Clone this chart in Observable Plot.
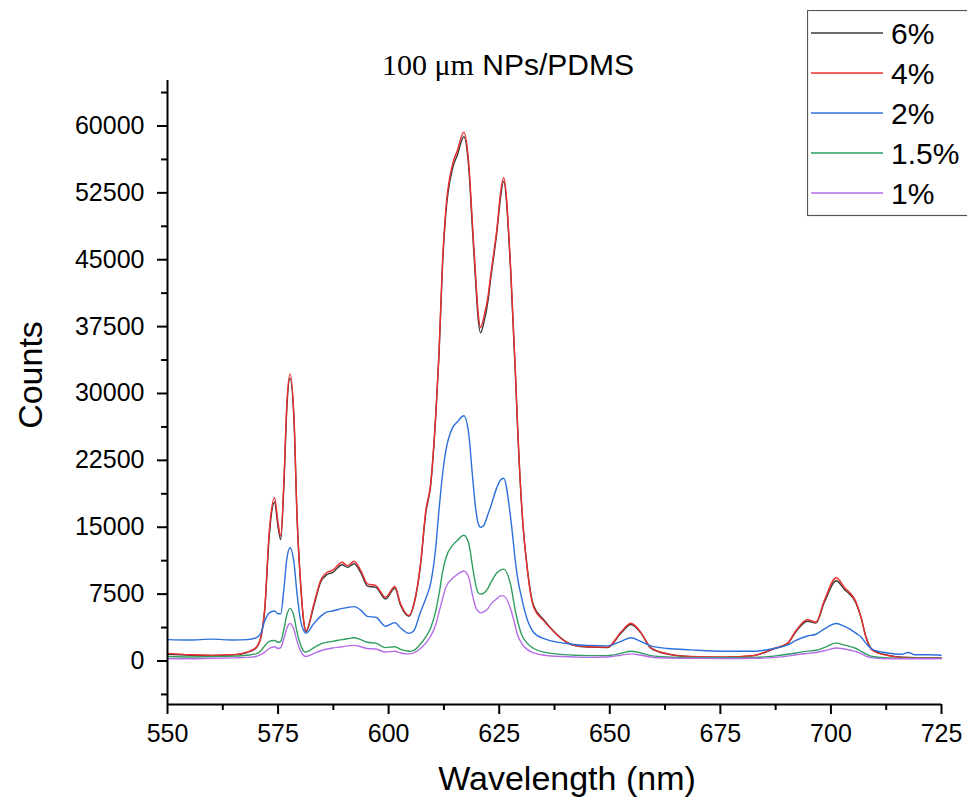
<!DOCTYPE html>
<html>
<head>
<meta charset="utf-8">
<script src="https://cdn.jsdelivr.net/npm/d3@7"></script>
<script src="https://cdn.jsdelivr.net/npm/@observablehq/plot@0.6"></script>
<style>
  html, body { margin: 0; padding: 0; background: #fff; }
  #wrap { position: relative; width: 967px; height: 805px; overflow: hidden; font-family: "Liberation Sans", Arial, sans-serif; }
  #title { position: absolute; left: 0; width: 1016px; top: 48px; text-align: center; font-size: 30px; color: #000; white-space: nowrap; }
  #title .serif { font-family: "Liberation Serif", "Times New Roman", serif; }
  #xlabel { position: absolute; left: 180px; width: 774px; top: 759px; text-align: center; font-size: 34px; color: #000; }
  #ylabel { position: absolute; left: 30px; top: 375px; transform: translate(-50%, -50%) rotate(-90deg); font-size: 34px; color: #000; white-space: nowrap; }
  #legend { position: absolute; left: 807px; top: 10px; }
</style>
</head>
<body>
<div id="wrap">
  <div id="chart"></div>
  <div id="title"><span class="serif">100 μm</span> NPs/PDMS</div>
  <div id="xlabel">Wavelength (nm)</div>
  <div id="ylabel">Counts</div>
  <div id="legend"></div>
</div>
<script>
const wavelengths = [550, 555, 560, 565, 568, 570, 571, 572, 573, 574.2, 575, 575.6, 576.3, 577, 577.7, 578.6, 579.3, 580.1, 580.8, 581.3, 583.1, 584.6, 586.1, 587.3, 589.5, 590.7, 592.2, 593.7, 595.2, 597.1, 599.3, 601.4, 602.7, 604.6, 605.7, 607.2, 608.4, 609.5, 610.6, 611.4, 612.2, 612.9, 614.5, 615.5, 617, 618.1, 619, 619.7, 620.2, 620.8, 621.5, 622.5, 623, 624.5, 625.3, 626, 627.6, 628.7, 629.1, 630.2, 631.3, 632.8, 635.1, 641.9, 645, 649.5, 652.5, 654.8, 657, 659.3, 663.1, 668.3, 675.8, 682.6, 687.1, 690.2, 692.1, 694.7, 696.6, 698.5, 701.2, 703, 705.7, 706.8, 707.9, 709.4, 712.8, 716, 717.5, 719, 722, 724.9];

const counts6 = [750, 650, 600, 680, 950, 1450, 2400, 5800, 14000, 17800, 15000, 13600, 19500, 28500, 31700, 27000, 16000, 8600, 4400, 3300, 6200, 8800, 9700, 9900, 10800, 10500, 10900, 9900, 8400, 8250, 6950, 8150, 6250, 5000, 6300, 10700, 16600, 19700, 27000, 34500, 44600, 50000, 55300, 56700, 58800, 55400, 48000, 42300, 38600, 36800, 37900, 40500, 42600, 48200, 52000, 53800, 43600, 31700, 26800, 16400, 10600, 6200, 4600, 1750, 1550, 1500, 3100, 4100, 3150, 1450, 780, 480, 420, 600, 1350, 1950, 3300, 4450, 4250, 6550, 9000, 8050, 6450, 4900, 2750, 1250, 650, 420, 400, 380, 370, 370];

const counts4 = [850, 700, 650, 700, 1000, 1500, 2500, 6000, 14500, 18300, 15500, 14000, 20000, 29000, 32200, 27300, 16100, 8700, 4500, 3400, 6400, 9000, 9950, 10150, 11080, 10700, 11190, 10150, 8650, 8460, 7150, 8350, 6410, 5100, 6400, 10900, 16870, 19900, 27300, 34800, 45000, 50500, 55800, 57200, 59300, 55900, 48600, 43000, 39300, 37400, 38500, 41000, 43000, 48600, 52500, 54200, 44000, 32000, 27000, 16500, 10500, 6000, 4500, 1750, 1600, 1550, 3230, 4240, 3230, 1480, 800, 500, 430, 620, 1400, 2000, 3420, 4620, 4350, 6780, 9330, 8270, 6590, 4910, 2670, 1180, 620, 400, 380, 370, 360, 360];

const counts2 = [2400, 2350, 2450, 2350, 2400, 2600, 3000, 4500, 5400, 5600, 5300, 5300, 8000, 11500, 12700, 11000, 7500, 4500, 3400, 3100, 4200, 5000, 5500, 5600, 5900, 6000, 6100, 5700, 5000, 4900, 3900, 4300, 3700, 3100, 3400, 5500, 7000, 8700, 12500, 17000, 21000, 23500, 26200, 26800, 27500, 25500, 20500, 17000, 15500, 15000, 15200, 16500, 17200, 19500, 20300, 20500, 16000, 11000, 9500, 6800, 4700, 3200, 2500, 1850, 1750, 1700, 2200, 2600, 2200, 1700, 1400, 1250, 1100, 1100, 1400, 1800, 2300, 2800, 3000, 3600, 4200, 3900, 3100, 2700, 2000, 1300, 900, 750, 950, 700, 700, 650];

const counts15 = [500, 450, 500, 550, 650, 800, 1100, 1700, 2200, 2300, 2100, 2200, 3500, 5200, 5900, 5000, 3200, 1800, 1100, 1000, 1500, 1900, 2100, 2200, 2400, 2500, 2600, 2400, 2100, 2000, 1500, 1600, 1300, 1100, 1200, 1900, 2700, 3700, 5500, 7500, 10000, 11500, 13000, 13500, 14100, 13200, 10500, 8500, 7700, 7500, 7600, 8200, 8700, 9900, 10200, 10300, 8500, 5500, 4600, 2800, 2000, 1400, 1000, 650, 600, 600, 850, 1100, 900, 600, 450, 400, 380, 400, 550, 750, 900, 1100, 1200, 1500, 2000, 1800, 1400, 1100, 800, 500, 350, 300, 300, 300, 300, 300];

const counts1 = [250, 250, 300, 350, 400, 500, 700, 1000, 1400, 1600, 1400, 1500, 2500, 3700, 4200, 3500, 2200, 1100, 600, 500, 850, 1150, 1350, 1450, 1600, 1700, 1750, 1600, 1400, 1350, 1000, 1100, 900, 800, 900, 1400, 2000, 2800, 4000, 5500, 7000, 8200, 9300, 9700, 10100, 9400, 7300, 6000, 5600, 5400, 5500, 5900, 6300, 7000, 7300, 7300, 5800, 3800, 3000, 1900, 1300, 900, 650, 450, 400, 450, 650, 800, 650, 450, 330, 300, 280, 300, 400, 550, 700, 850, 950, 1150, 1450, 1350, 1050, 850, 550, 350, 250, 250, 250, 250, 250, 250];

const seriesNames = ["6%", "4%", "2%", "1.5%", "1%"];
const seriesValues = [counts6, counts4, counts2, counts15, counts1];
const seriesColors = ["#3a3a3a", "#ee2d2d", "#2b6fdc", "#2f9e5e", "#b56ee6"];

const xMajor = [550, 575, 600, 625, 650, 675, 700, 725];
const xMinor = [562.5, 587.5, 612.5, 637.5, 662.5, 687.5, 712.5];
const yMajor = [0, 7500, 15000, 22500, 30000, 37500, 45000, 52500, 60000];
const yMinor = [-3750, 3750, 11250, 18750, 26250, 33750, 41250, 48750, 56250, 63750];

const rows = [];
seriesNames.forEach((name, si) => {
  wavelengths.forEach((w, i) => rows.push({ w, c: seriesValues[si][i], s: name }));
});

const chart = Plot.plot({
  width: 967,
  height: 805,
  marginLeft: 167,
  marginRight: 26,
  marginTop: 80,
  marginBottom: 101,
  style: { fontFamily: "'Liberation Sans', Arial, sans-serif", fontSize: "25px", color: "#000", background: "#fff", overflow: "visible" },
  x: { domain: [550, 725], label: null },
  y: { domain: [-4880, 65100], label: null },
  color: { domain: seriesNames, range: seriesColors },
  marks: [
    Plot.line(rows, { x: "w", y: "c", z: "s", stroke: "s", strokeWidth: 1.4, curve: "monotone-x" }),
    Plot.ruleX([550], { stroke: "#000", strokeWidth: 2 }),
    Plot.ruleY([-4880], { stroke: "#000", strokeWidth: 2 }),
    Plot.axisX(xMajor, { tickSize: 10, tickPadding: 10, strokeWidth: 2, fontSize: 25, tickFormat: d => String(d), label: null }),
    Plot.axisX(xMinor, { tickSize: 6, strokeWidth: 2, tickFormat: () => "", label: null }),
    Plot.axisY(yMajor, { tickSize: 10, tickPadding: 13, strokeWidth: 2, fontSize: 25, tickFormat: d => String(d), label: null }),
    Plot.axisY(yMinor, { tickSize: 6, strokeWidth: 2, tickFormat: () => "", label: null })
  ]
});
document.getElementById("chart").appendChild(chart);

// legend
const ns = "http://www.w3.org/2000/svg";
const lg = document.createElementNS(ns, "svg");
lg.setAttribute("width", 162);
lg.setAttribute("height", 210);
const box = document.createElementNS(ns, "rect");
box.setAttribute("x", 0.5); box.setAttribute("y", 0.5);
box.setAttribute("width", 170); box.setAttribute("height", 205);
box.setAttribute("fill", "#fff"); box.setAttribute("stroke", "#555"); box.setAttribute("stroke-width", 1.2);
lg.appendChild(box);
seriesNames.forEach((name, i) => {
  const cy = 23 + i * 40;
  const ln = document.createElementNS(ns, "line");
  ln.setAttribute("x1", 4); ln.setAttribute("x2", 76);
  ln.setAttribute("y1", cy); ln.setAttribute("y2", cy);
  ln.setAttribute("stroke", seriesColors[i]); ln.setAttribute("stroke-width", 1.6);
  lg.appendChild(ln);
  const t = document.createElementNS(ns, "text");
  t.setAttribute("x", 84); t.setAttribute("y", cy + 11);
  t.setAttribute("font-family", "'Liberation Sans', Arial, sans-serif");
  t.setAttribute("font-size", 30);
  t.setAttribute("fill", "#000");
  t.textContent = name;
  lg.appendChild(t);
});
document.getElementById("legend").appendChild(lg);
</script>
</body>
</html>
